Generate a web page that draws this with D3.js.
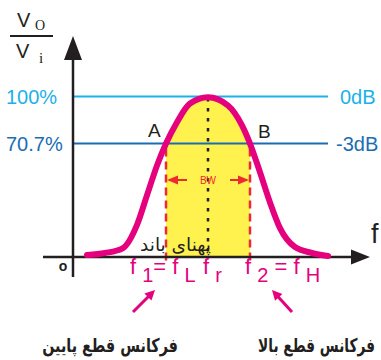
<!DOCTYPE html>
<html>
<head>
<meta charset="utf-8">
<script src="https://cdn.jsdelivr.net/npm/d3@7"></script>
<style>
  body { margin: 0; background: #fff; }
  svg { display: block; }
  .lat { font-family: 'Liberation Sans', Arial, sans-serif; }
  .fa { font-family: 'DejaVu Sans', sans-serif; }
</style>
</head>
<body>
<svg width="381" height="360"></svg>
<script>
// curve (frequency in arbitrary units, gain in % of peak)
const curveFreq = [14, 32, 50, 64, 74, 84, 93, 104, 117, 135, 155, 169, 177, 187, 197, 207, 222, 239, 255];
const curveGain = [1.2, 2.5, 5.6, 20, 38.5, 57, 70.7, 84, 95.6, 99.5, 94.4, 82, 70.7, 52.8, 34, 18, 6.2, 2.5, 0.6];

const levels = [100, 70.7];
const levelLeft = ['100%', '70.7%'];
const levelRight = ['0dB', '-3dB'];
const levelColors = ['#1db1e9', '#1b6db3'];

const fLow = 93, fRes = 135, fHigh = 177;

const magenta = '#e5007d';
const red = '#ec2a2f';
const ink = '#231f20';

const svg = d3.select('svg');

const x = d3.scaleLinear().domain([0, 300]).range([73, 373]);
const y = d3.scaleLinear().domain([0, 100]).range([257, 96.5]);

const pts = curveFreq.map((f, i) => ({ f: f, g: curveGain[i] }));

// yellow band between the cut-off frequencies
svg.append('clipPath')
  .attr('id', 'band')
  .append('rect')
  .attr('x', x(fLow))
  .attr('y', 0)
  .attr('width', x(fHigh) - x(fLow))
  .attr('height', 360);

svg.append('path')
  .datum(pts)
  .attr('clip-path', 'url(#band)')
  .attr('fill', '#fff24f')
  .attr('d', d3.area()
    .x(d => x(d.f))
    .y0(y(0))
    .y1(d => y(d.g))
    .curve(d3.curveMonotoneX));

// 100% and 70.7% reference lines
levels.forEach((lv, i) => {
  svg.append('line')
    .attr('x1', x(0)).attr('x2', x(255))
    .attr('y1', y(lv)).attr('y2', y(lv))
    .attr('stroke', levelColors[i])
    .attr('stroke-width', 2);
  svg.append('text')
    .attr('class', 'lat')
    .attr('x', 6).attr('y', y(lv) + 7.5)
    .attr('font-size', 20)
    .attr('fill', levelColors[i])
    .text(levelLeft[i]);
  svg.append('text')
    .attr('class', 'lat')
    .attr('x', i === 0 ? 340 : 336).attr('y', y(lv) + 7.5)
    .attr('font-size', 20)
    .attr('fill', levelColors[i])
    .text(levelRight[i]);
});

// dotted line at resonance
svg.append('line')
  .attr('x1', x(fRes)).attr('x2', x(fRes))
  .attr('y1', y(99)).attr('y2', y(0))
  .attr('stroke', ink)
  .attr('stroke-width', 2.5)
  .attr('stroke-dasharray', '3.5,6.5');

// dashed cut-off lines
[fLow, fHigh].forEach(f => {
  svg.append('line')
    .attr('x1', x(f)).attr('x2', x(f))
    .attr('y1', y(70.7) + 5).attr('y2', y(0) + 8)
    .attr('stroke', red)
    .attr('stroke-width', 2.5)
    .attr('stroke-dasharray', '8,5');
});

// BW arrow
const bwY = 180;
svg.append('line')
  .attr('x1', x(fLow) + 4).attr('x2', x(fRes) - 21)
  .attr('y1', bwY).attr('y2', bwY)
  .attr('stroke', red).attr('stroke-width', 2);
svg.append('line')
  .attr('x1', x(fRes) + 22).attr('x2', x(fHigh) - 4)
  .attr('y1', bwY).attr('y2', bwY)
  .attr('stroke', red).attr('stroke-width', 2);
svg.append('path')
  .attr('fill', red)
  .attr('d', `M${x(fLow) + 1},${bwY} l11,-4.5 l0,9 Z M${x(fHigh) - 1},${bwY} l-11,-4.5 l0,9 Z`);
svg.append('text')
  .attr('class', 'lat')
  .attr('x', x(fRes)).attr('y', bwY + 4)
  .attr('text-anchor', 'middle')
  .attr('font-size', 10)
  .attr('fill', red)
  .text('BW');

// axes
svg.append('line')
  .attr('x1', x(-30)).attr('x2', x(282))
  .attr('y1', y(0)).attr('y2', y(0))
  .attr('stroke', ink).attr('stroke-width', 2.5);
svg.append('path')
  .attr('fill', ink)
  .attr('d', `M${x(297)},${y(0)} l-19,-7.5 l0,15 Z`);
svg.append('line')
  .attr('x1', x(0)).attr('x2', x(0))
  .attr('y1', 277).attr('y2', 55)
  .attr('stroke', ink).attr('stroke-width', 2.5);
svg.append('path')
  .attr('fill', ink)
  .attr('d', `M${x(0)},36 l-9,24 l18,0 Z`);

// response curve
svg.append('path')
  .datum(pts)
  .attr('fill', 'none')
  .attr('stroke', magenta)
  .attr('stroke-width', 6)
  .attr('stroke-linecap', 'round')
  .attr('d', d3.line()
    .x(d => x(d.f))
    .y(d => y(d.g))
    .curve(d3.curveMonotoneX));

// A and B
svg.append('text').attr('class', 'lat')
  .attr('x', 148).attr('y', 137).attr('font-size', 19).attr('fill', ink).text('A');
svg.append('text').attr('class', 'lat')
  .attr('x', 258).attr('y', 138).attr('font-size', 19).attr('fill', ink).text('B');

// axis labels
svg.append('text').attr('class', 'lat')
  .attr('x', 371).attr('y', 243).attr('font-size', 27).attr('fill', ink).text('f');
svg.append('text').attr('class', 'lat')
  .attr('x', 63).attr('y', 271).attr('text-anchor', 'middle')
  .attr('font-size', 14).attr('font-weight', 'bold').attr('fill', ink).text('o');

// Vo / Vi
const frac = svg.append('g');
frac.append('text').attr('class', 'lat')
  .attr('x', 17).attr('y', 27).attr('font-size', 20).attr('fill', ink).text('V');
frac.append('text')
  .attr('x', 35).attr('y', 30).attr('font-size', 14)
  .attr('font-family', 'Liberation Serif, serif').attr('fill', ink).text('O');
frac.append('line')
  .attr('x1', 10).attr('x2', 53).attr('y1', 36).attr('y2', 36)
  .attr('stroke', ink).attr('stroke-width', 2);
frac.append('text').attr('class', 'lat')
  .attr('x', 16).attr('y', 58).attr('font-size', 20).attr('fill', ink).text('V');
frac.append('text')
  .attr('x', 39).attr('y', 63).attr('font-size', 15)
  .attr('font-family', 'Liberation Serif, serif').attr('fill', ink).text('i');

// persian text squeezed to the width it has in the picture
function faText(txt, xEnd, yBase, w, size, bold) {
  const g = svg.append('g');
  const t = g.append('text').attr('class', 'fa')
    .attr('x', 0).attr('y', 0)
    .attr('text-anchor', 'end')
    .attr('font-size', size)
    .attr('font-weight', bold ? 'bold' : 'normal')
    .attr('fill', ink)
    .text(txt);
  const nat = t.node().getComputedTextLength();
  g.attr('transform', `translate(${xEnd},${yBase}) scale(${w / nat},1)`);
}

faText('پهنای باند', 211, 251, 71, 18, false);

// frequency labels with subscripts
function subLabel(x0, parts) {
  const t = svg.append('text').attr('class', 'lat')
    .attr('x', x0).attr('y', 282)
    .attr('font-size', 22)
    .attr('fill', magenta);
  parts.forEach(p => {
    t.append('tspan')
      .attr('dy', p[1] ? 8 : (t.node().childNodes.length ? -8 : 0))
      .attr('font-size', p[1] ? 20 : 22)
      .text(p[0]);
  });
}
subLabel(130, [['f ', 0], ['1', 1], ['= f ', 0], ['L', 1]]);
subLabel(203, [['f ', 0], ['r', 1]]);
subLabel(245, [['f ', 0], ['2', 1], [' = f ', 0], ['H', 1]]);

// pointer arrows
[[133, 312, 155, 290], [292, 312, 272, 290]].forEach(a => {
  const ang = Math.atan2(a[3] - a[1], a[2] - a[0]);
  svg.append('line')
    .attr('x1', a[0]).attr('y1', a[1])
    .attr('x2', a[2] - 6 * Math.cos(ang)).attr('y2', a[3] - 6 * Math.sin(ang))
    .attr('stroke', magenta).attr('stroke-width', 3);
  const p = d3.path();
  p.moveTo(a[2], a[3]);
  p.lineTo(a[2] - 10 * Math.cos(ang) + 5 * Math.sin(ang), a[3] - 10 * Math.sin(ang) - 5 * Math.cos(ang));
  p.lineTo(a[2] - 10 * Math.cos(ang) - 5 * Math.sin(ang), a[3] - 10 * Math.sin(ang) + 5 * Math.cos(ang));
  p.closePath();
  svg.append('path').attr('fill', magenta).attr('d', p.toString());
});

// bottom captions
faText('فرکانس قطع پایین', 178, 352, 136, 19, true);
faText('فرکانس قطع بالا', 375, 352, 117, 19, true);
</script>
</body>
</html>
